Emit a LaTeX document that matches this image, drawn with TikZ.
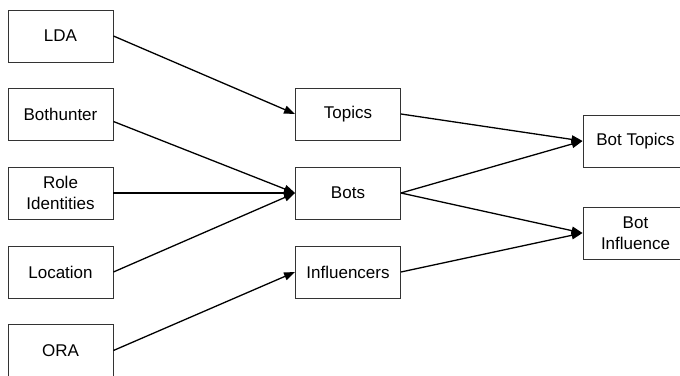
\documentclass[tikz,border=0pt]{standalone}
\usepackage{fontspec}
\setmainfont{Liberation Sans}
\usetikzlibrary{arrows.meta}
\begin{document}
\begin{tikzpicture}[x=1pt,y=1pt,
  box/.style={draw=black!80, line width=0.9pt, minimum width=105pt, minimum height=52pt,
    inner sep=0pt, align=center, font=\fontsize{17}{20.5}\selectfont},
  link/.style={line width=1.3pt, -{Triangle[length=11pt,width=8pt]}}]
\clip (0,0) rectangle (680,375);
\fill[white] (0,0) rectangle (680,375);
% inputs
\node[box] (lda) at (60.5,339) {LDA};
\node[box] (bh)  at (60.5,261) {Bothunter};
\node[box] (ri)  at (60.5,182) {Role\\Identities};
\node[box] (loc) at (60.5,103) {Location};
\node[box] (ora) at (60.5,24.5) {ORA};
% intermediate results
\node[box] (top) at (348,261) {Topics};
\node[box] (bot) at (348,182) {Bots};
\node[box] (inf) at (348,103) {Influencers};
% outputs
\node[box] (bt) at (635.5,234) {Bot Topics};
\node[box] (bi) at (635.5,142) {Bot\\Influence};
% connectors
\draw[link] (lda.east) -- (top.west);
\draw[link] ([yshift=-7.5pt]bh.east) -- (bot.west);
\draw[link] (ri.east) -- (bot.west);
\draw[link] (loc.east) -- (bot.west);
\draw[link] (ora.east) -- (inf.west);
\draw[link] (top.east) -- (bt.west);
\draw[link] (bot.east) -- (bt.west);
\draw[link] (bot.east) -- (bi.west);
\draw[link] (inf.east) -- (bi.west);
\end{tikzpicture}
\end{document}
